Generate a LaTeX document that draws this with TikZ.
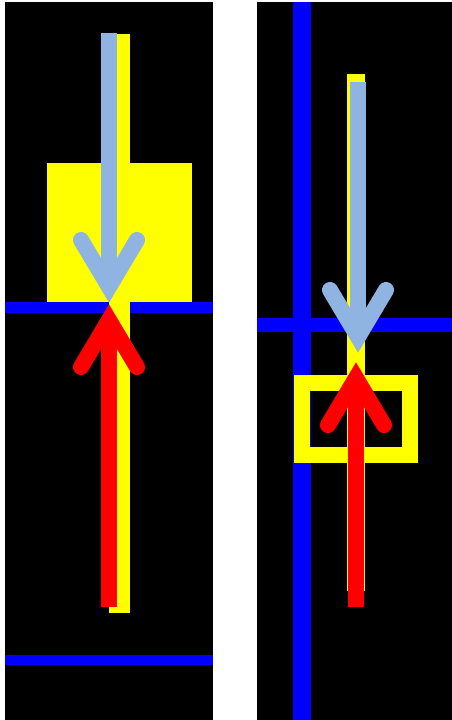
\documentclass[tikz,border=0pt]{standalone}
\usetikzlibrary{calc}
\definecolor{paleblue}{RGB}{143,180,226}
\definecolor{lemon}{RGB}{255,255,0}
\definecolor{wireblue}{RGB}{0,0,255}
\definecolor{hotred}{RGB}{255,0,0}
\begin{document}
\begin{tikzpicture}[x=1pt, y=-1pt, panel/.style={fill=black}, wire/.style={fill=wireblue}, band/.style={fill=lemon}, shaft/.style={line width=16pt}, barb/.style={line width=16pt, line cap=round, line join=miter}]
\useasboundingbox[fill=white] (0,0) rectangle (452,720);
% left panel
\fill[panel] (5,2) rectangle (213,720);
\fill[band] (47,163) rectangle (192,302);
\fill[wire] (5,302) rectangle (213,313);
\fill[wire] (5,655) rectangle (213,665);
\fill[band] (109,34) rectangle (130,613);
\coordinate (downL) at (109,287);
\coordinate (upL) at (109,320);
\draw[shaft, paleblue] (109,33) -- (downL);
\draw[barb, paleblue] (81,240) -- (downL) -- (137,240);
\draw[shaft, hotred] (109,607) -- (upL);
\draw[barb, hotred] (81,367) -- (upL) -- (137,367);
% right panel
\fill[panel] (257,2) rectangle (452,720);
\fill[wire] (293,2) rectangle (311,720);
\fill[wire] (257,318) rectangle (452,332);
\fill[band] (347,74) rectangle (365,591);
\draw[lemon, line width=16pt] (302,382.5) rectangle (410,454.5);
\coordinate (downR) at (358,337);
\coordinate (upR) at (356,378);
\draw[shaft, paleblue] (358,82) -- (downR);
\draw[barb, paleblue] (330,290) -- (downR) -- (386,290);
\draw[shaft, hotred] (356,607) -- (upR);
\draw[barb, hotred] (328,425) -- (upR) -- (384,425);
\end{tikzpicture}
\end{document}
